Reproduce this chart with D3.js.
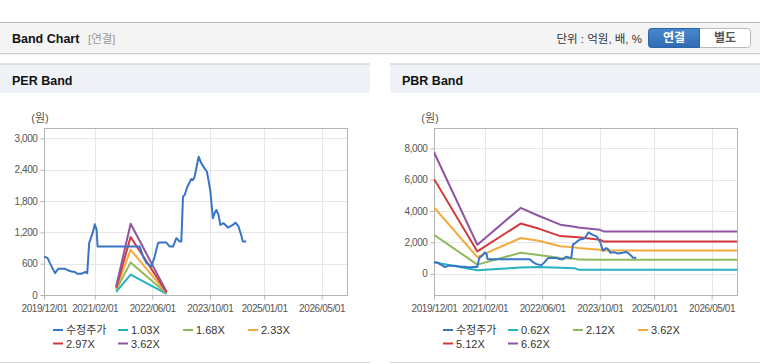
<!DOCTYPE html>
<html>
<head>
<meta charset="utf-8">
<script src="https://cdn.jsdelivr.net/npm/d3@7"></script>
<style>
  body { margin: 0; background: #fff; }
  svg text { font-family: "Liberation Sans", Arial, "Noto Sans CJK KR", sans-serif; }
</style>
</head>
<body>
<svg id="chart" width="760" height="364"></svg>
<script>
// adjusted price (수정주가), shared by both charts
const priceDates = ["2019-12-01","2020-01-01","2020-01-20","2020-03-03","2020-03-30","2020-05-26","2020-06-23",
  "2020-07-21","2020-08-18","2020-09-06","2020-10-13","2020-11-10","2020-11-30","2020-12-16","2021-01-14",
  "2021-02-02","2021-02-17","2021-02-25","2022-02-16","2022-03-16","2022-04-14","2022-05-26","2022-06-22",
  "2022-07-20","2022-08-04","2022-09-29","2022-10-27","2022-11-24","2022-12-22","2023-01-19","2023-02-02",
  "2023-02-16","2023-03-02","2023-03-25","2023-04-27","2023-05-11","2023-05-25","2023-06-28","2023-07-21",
  "2023-08-17","2023-09-06","2023-10-04","2023-10-26","2023-11-10","2023-11-24","2023-12-13","2023-12-28",
  "2024-01-24","2024-03-01","2024-04-12","2024-05-04","2024-05-27","2024-06-21","2024-07-05","2024-08-03"];
const priceValues = [738,707,611,420,502,502,470,451,440,407,407,440,420,994,1185,1357,1248,929,929,738,611,547,738,
  994,1005,1005,929,929,1089,1024,1024,1884,1917,2075,2222,2203,2266,2649,2522,2427,2362,2012,1471,1567,1630,
  1535,1343,1376,1292,1343,1387,1324,1152,1024,1024];

// PER band
const perDates = ["2021-08-01","2021-12-01","2022-10-01"];
const per103 = [60, 392, 20];
const per168 = [100, 625, 30];
const per233 = [120, 866, 40];
const per297 = [134, 1112, 50];
const per362 = [164, 1365, 60];
const perLabels = ["수정주가","1.03X","1.68X","2.33X","2.97X","3.62X"];
const perYTicks = [0, 600, 1200, 1800, 2400, 3000];

// PBR band
const pbrDates = ["2019-12-01","2020-12-01","2021-12-01","2022-05-01","2022-11-01","2023-03-01","2023-04-01",
  "2023-10-01","2023-11-01","2026-12-01"];
const pbr062 = [724, 213, 400, 420, 375, 355, 255, 255, 255, 255];
const pbr212 = [2480, 580, 1340, 1200, 1000, 960, 900, 894, 894, 894];
const pbr362 = [4230, 1060, 2280, 2100, 1750, 1680, 1640, 1530, 1480, 1480];
const pbr512 = [6050, 1420, 3200, 2880, 2400, 2340, 2320, 2170, 2050, 2050];
const pbr662 = [7750, 1850, 4200, 3700, 3130, 3000, 2950, 2800, 2700, 2700];
const pbrLabels = ["수정주가","0.62X","2.12X","3.62X","5.12X","6.62X"];
const pbrYTicks = [0, 2000, 4000, 6000, 8000];

const xTickLabels = ["2019/12/01","2021/02/01","2022/06/01","2023/10/01","2025/01/01","2026/05/01"];
const seriesColors = ["#3875c6","#26b2c2","#8fba5c","#f2aa3a","#d3393a","#8f55a0"];

const parseDay = d3.utcParse("%Y-%m-%d");
const parseTick = d3.utcParse("%Y/%m/%d");
const svg = d3.select("#chart");

// ---- page header ----
svg.append("rect").attr("x", 0).attr("y", 22).attr("width", 760).attr("height", 31).attr("fill", "#f4f4f4");
svg.append("line").attr("x1", 0).attr("x2", 760).attr("y1", 22.5).attr("y2", 22.5).attr("stroke", "#b8b8b8");
svg.append("line").attr("x1", 0).attr("x2", 760).attr("y1", 53.5).attr("y2", 53.5).attr("stroke", "#cfcfcf");
svg.append("line").attr("x1", 0).attr("x2", 760).attr("y1", 54.5).attr("y2", 54.5).attr("stroke", "#ececec");
svg.append("text").attr("x", 12).attr("y", 43).text("Band Chart")
  .style("font-size", "12.5px").style("font-weight", "bold").style("fill", "#111");
svg.append("text").attr("x", 88).attr("y", 43).text("[연결]")
  .style("font-size", "11.5px").style("fill", "#999");
svg.append("text").attr("x", 642).attr("y", 43).attr("text-anchor", "end").text("단위 : 억원, 배, %")
  .style("font-size", "11.5px").style("fill", "#333");

// toggle buttons
const defs = svg.append("defs");
const grad = defs.append("linearGradient").attr("id", "btnBlue").attr("x1", 0).attr("x2", 0).attr("y1", 0).attr("y2", 1);
grad.append("stop").attr("offset", "0%").attr("stop-color", "#4a88cf");
grad.append("stop").attr("offset", "100%").attr("stop-color", "#2e6bb3");
svg.append("rect").attr("x", 648.5).attr("y", 28.5).attr("width", 102).attr("height", 19).attr("rx", 3)
  .attr("fill", "#fff").attr("stroke", "#b9b9b9");
svg.append("path").attr("d", "M651.5,28.5 H699.5 V47.5 H651.5 Q648.5,47.5 648.5,44.5 V31.5 Q648.5,28.5 651.5,28.5 Z")
  .attr("fill", "url(#btnBlue)").attr("stroke", "#2c64a8");
svg.append("text").attr("x", 674).attr("y", 42).attr("text-anchor", "middle").text("연결")
  .style("font-size", "12px").style("font-weight", "bold").style("fill", "#fff");
svg.append("text").attr("x", 725).attr("y", 42).attr("text-anchor", "middle").text("별도")
  .style("font-size", "12px").style("font-weight", "bold").style("fill", "#555");

// ---- one band chart panel ----
function drawBand(cfg) {
  const panelX = cfg.panelX, left = cfg.left, right = left + 303, top = 128, bottom = 295;

  // panel header
  svg.append("rect").attr("x", panelX).attr("y", 64).attr("width", 370).attr("height", 29).attr("fill", "#eef2f7");
  svg.append("line").attr("x1", panelX).attr("x2", panelX + 370).attr("y1", 64).attr("y2", 64)
    .attr("stroke", "#d6d6d6").attr("stroke-width", 1.5);
  svg.append("text").attr("x", panelX + 12).attr("y", 85).text(cfg.title)
    .style("font-size", "12.5px").style("font-weight", "bold").style("fill", "#111");
  svg.append("line").attr("x1", panelX).attr("x2", panelX + 370).attr("y1", 362.5).attr("y2", 362.5)
    .attr("stroke", "#dcdcdc");

  const x = d3.scaleUtc()
    .domain([parseDay("2019-12-01"), parseDay("2026-12-01")])
    .range([left, right]);
  const y = d3.scaleLinear().domain(cfg.yDomain).range([bottom, top]);
  const xTicks = xTickLabels.map(parseTick);

  const g = svg.append("g");

  // grid
  g.selectAll(".vgrid").data(xTicks).enter().append("line")
    .attr("x1", d => Math.round(x(d)) + 0.5).attr("x2", d => Math.round(x(d)) + 0.5)
    .attr("y1", top).attr("y2", bottom)
    .attr("stroke", "#e6e6e6");
  g.selectAll(".hgrid").data(cfg.yTicks).enter().append("line")
    .attr("x1", left).attr("x2", right)
    .attr("y1", d => Math.round(y(d)) + 0.5).attr("y2", d => Math.round(y(d)) + 0.5)
    .attr("stroke", "#e6e6e6");

  // axes
  const yAxis = g.append("g").attr("transform", `translate(${left + 0.5},0)`)
    .call(d3.axisLeft(y).tickValues(cfg.yTicks).tickSize(4).tickPadding(3).tickFormat(d3.format(",")));
  const xAxis = g.append("g").attr("transform", `translate(0,${bottom + 0.5})`)
    .call(d3.axisBottom(x).tickValues(xTicks).tickSize(4).tickPadding(5).tickFormat(d3.utcFormat("%Y/%m/%d")));
  [yAxis, xAxis].forEach(a => {
    a.select(".domain").remove();
    a.selectAll("line").attr("stroke", "#b4b4b4");
    a.selectAll("text").style("font-size", "10px").style("letter-spacing", "-0.4px").style("fill", "#555")
      .style("font-family", "'Liberation Sans', Arial, sans-serif");
  });

  // frame
  g.append("rect").attr("x", left + 0.5).attr("y", top + 0.5)
    .attr("width", right - left).attr("height", bottom - top)
    .attr("fill", "none").attr("stroke", "#b4b4b4");

  svg.append("text").attr("x", left - 4).attr("y", 122).attr("text-anchor", "middle").text("(원)")
    .style("font-size", "11px").style("fill", "#555");

  // lines
  const line = d3.line().x(d => x(d.date)).y(d => y(d.v));
  const clipId = "clip" + cfg.title.replace(/\s/g, "");
  defs.append("clipPath").attr("id", clipId).append("rect")
    .attr("x", left).attr("y", top).attr("width", right - left).attr("height", bottom - top);
  const lg = g.append("g").attr("clip-path", `url(#${clipId})`);

  const series = [{dates: priceDates, values: priceValues}]
    .concat(cfg.bands.map(b => ({dates: cfg.bandDates, values: b})));
  // bands first, price on top
  series.slice(1).concat(series.slice(0, 1)).forEach(s => {
    const idx = series.indexOf(s);
    lg.append("path")
      .datum(s.dates.map((d, i) => ({date: parseDay(d), v: s.values[i]})))
      .attr("d", line)
      .attr("fill", "none")
      .attr("stroke", seriesColors[idx])
      .attr("stroke-width", 2)
      .attr("stroke-linejoin", "round");
  });

  // legend
  const leg = svg.append("g");
  cfg.labels.forEach((lab, i) => {
    const lx = left + 9 + (i % 4) * 65;
    const ly = 330 + Math.floor(i / 4) * 13.5;
    leg.append("line").attr("x1", lx).attr("x2", lx + 10).attr("y1", ly).attr("y2", ly)
      .attr("stroke", seriesColors[i]).attr("stroke-width", 2);
    leg.append("text").attr("x", lx + 13).attr("y", ly + 4).text(lab)
      .style("font-size", "11px").style("fill", "#333");
  });
}

drawBand({
  title: "PER Band", panelX: 0, left: 44,
  yDomain: [0, 3200], yTicks: perYTicks,
  bandDates: perDates, bands: [per103, per168, per233, per297, per362], labels: perLabels
});
drawBand({
  title: "PBR Band", panelX: 390, left: 434,
  yDomain: [-1360, 9300], yTicks: pbrYTicks,
  bandDates: pbrDates, bands: [pbr062, pbr212, pbr362, pbr512, pbr662], labels: pbrLabels
});
</script>
</body>
</html>
